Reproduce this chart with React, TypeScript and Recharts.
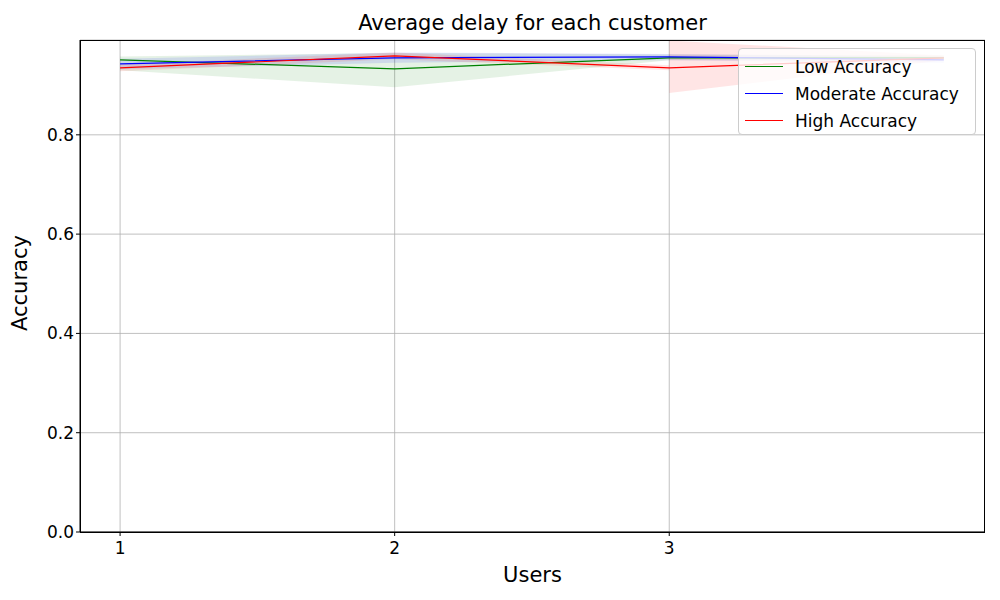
import React from 'react';
import { ComposedChart, Line, Area, XAxis, YAxis, CartesianGrid } from 'recharts';

const users = [1, 2, 3, 4];
const lowMean = [0.951, 0.933, 0.955, 0.955];
const lowLo = [0.93, 0.896, 0.95, 0.95];
const lowHi = [0.958, 0.965, 0.962, 0.96];
const modMean = [0.943, 0.955, 0.957, 0.951];
const modLo = [0.932, 0.945, 0.95, 0.945];
const modHi = [0.953, 0.966, 0.963, 0.957];
const highMean = [0.935, 0.959, 0.935, 0.955];
const highLo = [0.928, 0.952, 0.884, 0.95];
const highHi = [0.942, 0.966, 0.99, 0.96];
// red band just before the jump at user 3
const highJumpBand = [0.93, 0.94];

const data: any[] = [];
users.forEach((u, i) => {
  if (u === 3) data.push({ user: u, highBand: highJumpBand });
  data.push({
    user: u,
    low: lowMean[i],
    lowBand: [lowLo[i], lowHi[i]],
    mod: modMean[i],
    modBand: [modLo[i], modHi[i]],
    high: highMean[i],
    highBand: [highLo[i], highHi[i]],
  });
});

const legendItems = [
  { name: 'Low Accuracy', color: '#008000' },
  { name: 'Moderate Accuracy', color: '#0000ff' },
  { name: 'High Accuracy', color: '#ff0000' },
];

const font = '"DejaVu Sans", sans-serif';

export default function App() {
  return (
    <div style={{ position: 'absolute', left: 0, top: 0, width: 1000, height: 600, fontFamily: font, background: '#fff' }}>
      <div style={{ position: 'absolute', top: 11, width: 1065, textAlign: 'center', fontSize: 21 }}>
        Average delay for each customer
      </div>
      <ComposedChart width={1000} height={600} data={data} margin={{ top: 40, right: 15, left: 0, bottom: 0 }}>
        <CartesianGrid stroke="#b0b0b0" strokeWidth={0.8} verticalValues={[1, 2, 3]} />
        <XAxis
          dataKey="user"
          type="number"
          domain={[0.854, 4.15]}
          ticks={[1, 2, 3]}
          height={68}
          stroke="#000"
          tick={{ fill: '#000', fontSize: 17, fontFamily: font }}
          tickSize={4}
          tickMargin={6}
          label={{ value: 'Users', position: 'insideBottom', offset: 18, fontSize: 21, fill: '#000', fontFamily: font }}
        />
        <YAxis
          type="number"
          domain={[0, 0.991]}
          ticks={[0, 0.2, 0.4, 0.6, 0.8]}
          tickFormatter={(v) => v.toFixed(1)}
          width={80}
          stroke="#000"
          tick={{ fill: '#000', fontSize: 17, fontFamily: font }}
          tickSize={4}
          allowDataOverflow
          label={{ value: 'Accuracy', angle: -90, position: 'insideLeft', offset: 20, dy: 45, fontSize: 21, fill: '#000', fontFamily: font }}
        />
        <Area dataKey="lowBand" type="linear" stroke="none" fill="#008000" fillOpacity={0.1} connectNulls isAnimationActive={false} />
        <Area dataKey="modBand" type="linear" stroke="none" fill="#0000ff" fillOpacity={0.1} connectNulls isAnimationActive={false} />
        <Area dataKey="highBand" type="linear" stroke="none" fill="#ff0000" fillOpacity={0.1} isAnimationActive={false} />
        <Line dataKey="low" type="linear" stroke="#008000" strokeWidth={1.2} dot={false} connectNulls isAnimationActive={false} />
        <Line dataKey="mod" type="linear" stroke="#0000ff" strokeWidth={1.2} dot={false} connectNulls isAnimationActive={false} />
        <Line dataKey="high" type="linear" stroke="#ff0000" strokeWidth={1.2} dot={false} connectNulls isAnimationActive={false} />
      </ComposedChart>
      <div style={{ position: 'absolute', left: 80, top: 40, width: 905, height: 493, border: '1px solid #000', boxSizing: 'border-box', pointerEvents: 'none' }} />
      <div style={{ position: 'absolute', left: 738, top: 48, width: 238, height: 87, boxSizing: 'border-box', border: '1px solid #ccc', borderRadius: 4, background: 'rgba(255,255,255,0.8)', padding: '4px 6px' }}>
        {legendItems.map((it) => (
          <div key={it.name} style={{ display: 'flex', alignItems: 'center', height: 27, fontSize: 17 }}>
            <span style={{ display: 'inline-block', width: 38, height: 1, background: it.color, marginRight: 12 }} />
            {it.name}
          </div>
        ))}
      </div>
    </div>
  );
}
